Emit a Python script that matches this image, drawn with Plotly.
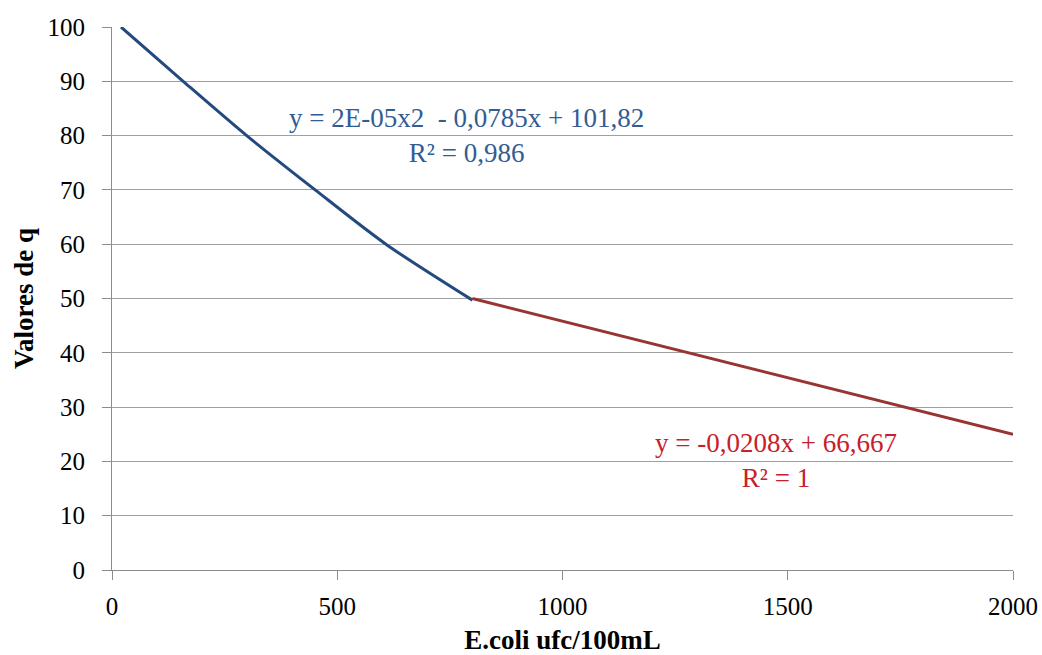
import plotly.graph_objects as go

# Data
blue_x = [20, 158, 299, 451, 608, 800]
blue_y = [100, 90, 80, 70, 60, 49.7]
red_x = [800, 2000]
red_y = [50, 25]

blue_eq = "y = 2E-05x2  - 0,0785x + 101,82<br>R² = 0,986"
red_eq = "y = -0,0208x + 66,667<br>R² = 1"

x_ticks = [0, 500, 1000, 1500, 2000]
y_ticks = [0, 10, 20, 30, 40, 50, 60, 70, 80, 90, 100]

FONT = "Liberation Serif, Times New Roman, serif"

fig = go.Figure()
fig.add_trace(go.Scatter(x=blue_x, y=blue_y, mode="lines",
                         line=dict(color="#24497E", width=3, shape="spline", smoothing=0.8),
                         showlegend=False))
fig.add_trace(go.Scatter(x=red_x, y=red_y, mode="lines",
                         line=dict(color="#983434", width=3), showlegend=False))

fig.add_annotation(x=786, y=80.1, xref="x", yref="y", text=blue_eq, showarrow=False,
                   font=dict(family=FONT, size=27, color="#335C92"), align="center")
fig.add_annotation(x=1474, y=20.2, xref="x", yref="y", text=red_eq, showarrow=False,
                   font=dict(family=FONT, size=27, color="#C8202A"), align="center")

fig.update_layout(
    width=1042, height=655,
    margin=dict(l=112, r=29, t=27, b=85),
    paper_bgcolor="white", plot_bgcolor="white",
    font=dict(family=FONT, size=25, color="black"),
)
fig.update_xaxes(range=[0, 2000], tickvals=x_ticks, showgrid=False, automargin=False,
                 showline=True, linecolor="#8c8c8c", linewidth=1,
                 ticks="outside", ticklen=9, tickcolor="#8c8c8c",
                 tickfont=dict(size=25), zeroline=False, ticklabelstandoff=5,
                 title=dict(text="<b>E.coli ufc/100mL</b>", font=dict(size=27), standoff=16))
fig.update_yaxes(range=[0, 100], tickvals=y_ticks, showgrid=True, automargin=False,
                 gridcolor="#a0a0a0", gridwidth=1,
                 showline=True, linecolor="#8c8c8c", linewidth=1,
                 ticks="outside", ticklen=9, tickcolor="#8c8c8c",
                 tickfont=dict(size=25), zeroline=False, ticklabelstandoff=12,
                 title=dict(text="<b>Valores de q</b>", font=dict(size=27), standoff=6))

fig.write_html("out.html")
